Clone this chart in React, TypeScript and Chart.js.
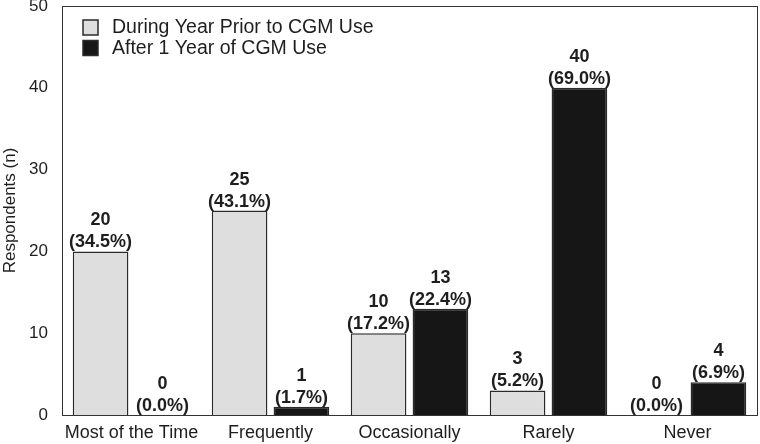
import React, { useEffect, useRef } from "react";
import { Chart, registerables } from "chart.js";

Chart.register(...registerables);

const categories = ["Most of the Time", "Frequently", "Occasionally", "Rarely", "Never"];
const priorValues = [20, 25, 10, 3, 0];
const priorPct = ["34.5%", "43.1%", "17.2%", "5.2%", "0.0%"];
const afterValues = [0, 1, 13, 40, 4];
const afterPct = ["0.0%", "1.7%", "22.4%", "69.0%", "6.9%"];
const seriesLabels = ["During Year Prior to CGM Use", "After 1 Year of CGM Use"];
const yTicks = [0, 10, 20, 30, 40, 50];

const FONT = "'Liberation Sans', Arial, Helvetica, sans-serif";
const TEXT = "#1e1e1e";
const LIGHT = "#dedede";
const DARK = "#161616";
const BORDER = "#2a2a2a";

const overlayPlugin = {
  id: "overlay",
  afterDatasetsDraw(chart: any) {
    const ctx = chart.ctx;
    const area = chart.chartArea;
    ctx.save();
    // frame
    ctx.strokeStyle = "#333";
    ctx.lineWidth = 1;
    ctx.strokeRect(Math.round(area.left) + 0.5, Math.round(area.top) + 0.5, Math.round(area.right - area.left), Math.round(area.bottom - area.top));
    // value labels
    ctx.fillStyle = TEXT;
    ctx.font = `bold 18px ${FONT}`;
    ctx.textAlign = "center";
    ctx.textBaseline = "alphabetic";
    const pcts = [priorPct, afterPct];
    chart.data.datasets.forEach((ds: any, di: number) => {
      const meta = chart.getDatasetMeta(di);
      meta.data.forEach((bar: any, i: number) => {
        const x = bar.x;
        const y = bar.y;
        ctx.fillText(`(${pcts[di][i]})`, x, y - 4);
        ctx.fillText(String(ds.data[i]), x, y - 26);
      });
    });
    // legend
    const lx = area.left + 21;
    const ly = area.top + 14;
    ctx.textAlign = "left";
    ctx.textBaseline = "middle";
    ctx.font = `19.5px ${FONT}`;
    chart.data.datasets.forEach((ds: any, di: number) => {
      const y = ly + di * 20.5;
      ctx.fillStyle = ds.backgroundColor;
      ctx.fillRect(lx, y, 15, 15);
      ctx.strokeStyle = BORDER;
      ctx.lineWidth = 1.5;
      ctx.strokeRect(lx, y, 15, 15);
      ctx.fillStyle = TEXT;
      ctx.fillText(ds.label, lx + 29, y + 8);
    });
    ctx.restore();
  },
};

export default function App() {
  const ref = useRef<HTMLCanvasElement>(null);
  useEffect(() => {
    document.body.style.margin = "0";
    const chart = new Chart(ref.current!, {
      type: "bar",
      data: {
        labels: categories,
        datasets: [
          {
            label: seriesLabels[0],
            data: priorValues,
            backgroundColor: LIGHT,
            borderColor: BORDER,
            borderWidth: 1.5,
            categoryPercentage: 0.89,
            barPercentage: 0.9,
          },
          {
            label: seriesLabels[1],
            data: afterValues,
            backgroundColor: DARK,
            borderColor: BORDER,
            borderWidth: 1.5,
            categoryPercentage: 0.89,
            barPercentage: 0.9,
          },
        ],
      },
      options: {
        animation: false,
        responsive: false,
        maintainAspectRatio: false,
        layout: { padding: { top: 6, right: 3, left: 0, bottom: 0 } },
        plugins: { legend: { display: false }, tooltip: { enabled: false } },
        scales: {
          x: {
            grid: { display: false, drawTicks: false },
            border: { display: false },
            ticks: { color: TEXT, font: { family: FONT, size: 18 }, padding: 7, maxRotation: 0, autoSkip: false },
            afterFit: (s: any) => { s.height = 29; s.paddingLeft = 0; s.paddingRight = 0; },
          },
          y: {
            min: 0,
            max: 50,
            afterBuildTicks: (s: any) => { s.ticks = yTicks.map((v) => ({ value: v })); },
            grid: { display: false, drawTicks: false },
            border: { display: false },
            ticks: { color: TEXT, font: { family: FONT, size: 17 }, padding: 14 },
            title: { display: true, text: "Respondents (n)", color: TEXT, font: { family: FONT, size: 17 }, padding: { top: 0, bottom: 0 } },
            afterFit: (s: any) => { s.width = 62; s.paddingTop = 0; s.paddingBottom = 0; },
          },
        },
      },
      plugins: [overlayPlugin],
    });
    return () => chart.destroy();
  }, []);
  return (
    <div style={{ width: 760, height: 444 }}>
      <canvas ref={ref} width={760} height={444} style={{ display: "block" }} />
    </div>
  );
}
